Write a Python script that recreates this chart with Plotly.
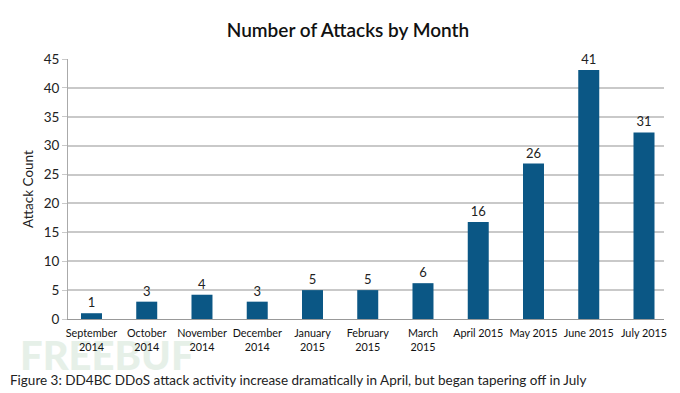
import plotly.graph_objects as go

months = ["September<br>2014", "October<br>2014", "November<br>2014", "December<br>2014",
          "January<br>2015", "February<br>2015", "March<br>2015", "April 2015",
          "May 2015", "June 2015", "July 2015"]
# bar heights as drawn in the picture
bar_heights = [1, 3, 4.2, 3, 5, 5, 6.2, 16.8, 26.9, 43.1, 32.3]
# value labels printed above the bars
value_labels = ["1", "3", "4", "3", "5", "5", "6", "16", "26", "41", "31"]

FONT = "Lato"
# page body has an 8px margin, so the figure is 8px smaller on each axis
W, H = 672, 385
L, R, T, B = 60, 16, 51, 74
PW, PH = W - L - R, H - T - B

fig = go.Figure()
fig.add_trace(go.Bar(
    x=list(range(len(months))), y=bar_heights, text=value_labels,
    textposition="outside", cliponaxis=False,
    textfont=dict(family=FONT, size=13, color="#222"),
    marker=dict(color="#0b5785", line=dict(width=0)),
    width=0.38, hoverinfo="skip",
))

fig.update_layout(
    width=W, height=H,
    margin=dict(l=L, r=R, t=T, b=B),
    paper_bgcolor="white", plot_bgcolor="white",
    showlegend=False,
    title=dict(text="Number of Attacks by Month", x=(348 - 8) / W, xanchor="center",
               y=1 - (30 - 8) / H, yanchor="middle",
               font=dict(family=FONT, size=19, color="#111", weight=600)),
    font=dict(family=FONT, color="#222"),
)
fig.update_xaxes(
    tickmode="array", tickvals=list(range(len(months))), ticktext=months,
    range=[-0.425, 10.362], showgrid=False, zeroline=False,
    showline=True, linecolor="#999", linewidth=1,
    ticks="", ticklabelstandoff=4, tickfont=dict(family=FONT, size=10.8, color="#111"),
)
fig.update_yaxes(
    range=[0, 45], tickvals=list(range(0, 50, 5)),
    showgrid=True, gridcolor="#c9c9c9", gridwidth=1.5,
    zeroline=False, showline=True, linecolor="#aaa", linewidth=1,
    ticks="outside", ticklen=5, tickcolor="#c9c9c9",
    tickfont=dict(family=FONT, size=13.5, color="#222"),
    title=dict(text="Attack Count", font=dict(family=FONT, size=13.5, color="#222"), standoff=6),
)

# faint watermark drawn beneath everything else
wm_x0, wm_x1 = (14 - 8 - L) / PW, (170 - 8 - L) / PW
wm_y0, wm_y1 = -(374 - 8 - (T + PH)) / PH, -(334 - 8 - (T + PH)) / PH
fig.add_shape(
    type="rect", xref="paper", yref="paper", x0=wm_x0, x1=wm_x1, y0=wm_y0, y1=wm_y1,
    line=dict(width=0), fillcolor="rgba(0,0,0,0)", layer="below",
    label=dict(text="FREEBUF", textposition="middle left",
               font=dict(family=FONT + " Black", size=40, color="#e6f0e8")),
)
fig.add_annotation(
    text="Figure 3: DD4BC DDoS attack activity increase dramatically in April, but began tapering off in July",
    xref="paper", yref="paper", x=(0 - L) / PW, y=-(380 - 8 - (T + PH)) / PH,
    xanchor="left", yanchor="middle", showarrow=False,
    font=dict(family=FONT, size=13.5, color="#222"),
)

fig.write_html("out.html")
